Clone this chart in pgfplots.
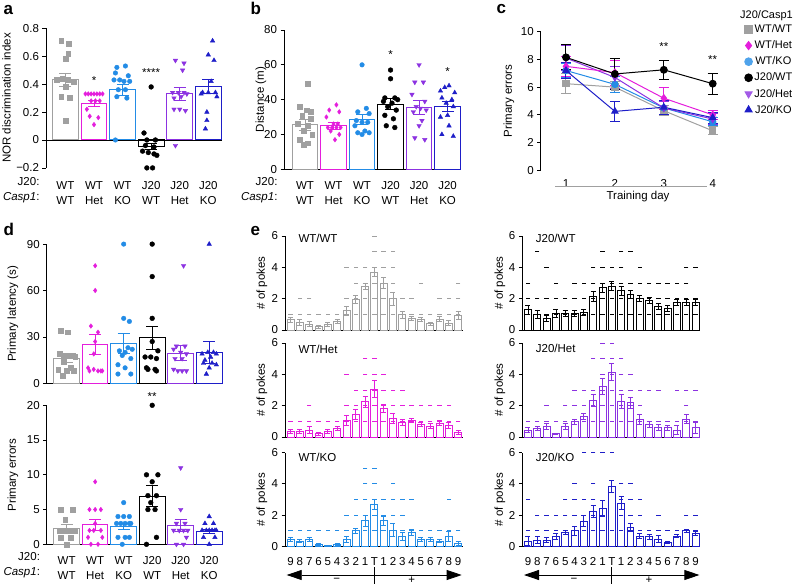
\documentclass[border=0pt]{standalone}
\usepackage{pgfplots}
\usepackage{pgfplotstable}
\pgfplotsset{compat=1.18}
\usepackage{fontspec}
\setmainfont{Liberation Sans}
\usetikzlibrary{arrows.meta}
\definecolor{cgray}{RGB}{160,160,160}
\definecolor{cmag}{RGB}{228,30,220}
\definecolor{clb}{RGB}{35,140,230}
\definecolor{cpur}{RGB}{140,50,225}
\definecolor{cblu}{RGB}{30,30,200}
\newcommand\lbl{\fontsize{11.5}{13.5}\selectfont}
\newcommand\lgd{\fontsize{11}{13}\selectfont}
\newcommand\pl{\fontsize{17}{19}\selectfont\bfseries}
\pgfplotsset{
 base/.style={scale only axis, clip=false, axis y line=left, axis x line=bottom,
   axis line style={line width=0.8pt,-}, tick style={line width=0.8pt,black}, tick align=outside,
   major tick length=3.5pt, ticklabel style={font=\lbl}, /pgf/number format/assume math mode=true},
 cat/.style={xtick={0,...,5}, xticklabels={WT,WT,WT,J20,J20,J20}, major x tick style={draw=none},
   xticklabel style={anchor=base, yshift=-#1pt},
   extra x ticks={0,...,5}, extra x tick labels={WT,Het,KO,WT,Het,KO},
   extra x tick style={major x tick style={draw=none}, xticklabel style={yshift=-15pt}}},
 cbar/.style={ybar, bar width=0.9, bar shift=0pt, fill=none, line width=1pt, draw=#1,
   error bars/.cd, y dir=both, y explicit, error bar style={line width=1pt, draw=#1},
   error mark options={rotate=90, mark size=6pt, line width=1pt, draw=#1}},
 ebar/.style={ybar, bar width=0.75, bar shift=0pt, fill=none, line width=0.8pt, draw=#1,
   error bars/.cd, y dir=both, y explicit, error bar style={line width=0.8pt, draw=#1},
   error mark options={rotate=90, mark size=2.5pt, line width=0.8pt, draw=#1}},
 dots/.style={only marks, mark=-, mark size=2.2pt, color=#1, mark options={line width=0.9pt}},
 eax/.style={base, width=178pt, height=94pt, xmin=-9.6, xmax=9.52, ymin=0, ymax=6, ytick={0,2,4,6}, xtick=\empty, anchor=south west},
 eaxb/.style={eax, xtick={-9,...,9}, xticklabels={9,8,7,6,5,4,3,2,1,T,1,2,3,4,5,6,7,8,9}, major x tick style={draw=none}, xticklabel style={anchor=base, yshift=-15.5pt}},
 pWTWT/.style={only marks, mark=square*, mark size=2.4pt, color=cgray},
 pWTHet/.style={only marks, mark=diamond*, mark size=2.3pt, color=cmag},
 pWTKO/.style={only marks, mark=*, mark size=2.3pt, color=clb},
 pJWT/.style={only marks, mark=*, mark size=2.4pt, color=black},
 pJHet/.style={only marks, mark=triangle*, mark size=2.6pt, color=cpur, mark options={rotate=180}},
 pJKO/.style={only marks, mark=triangle*, mark size=2.6pt, color=cblu},
}

\pgfplotstableread{
x y e
-9 0.65 0.15
-8 0.47 0.2
-7 0.37 0.15
-6 0.20 0.1
-5 0.37 0.12
-4 0.54 0.12
-3 1.23 0.3
-2 1.95 0.25
-1 2.8 0.2
0 3.7 0.3
1 3.0 0.35
2 2.0 0.4
3 0.97 0.2
4 0.75 0.12
5 0.7 0.12
6 0.4 0.1
7 0.7 0.15
8 0.45 0.15
9 0.95 0.25
}\eWTWT
\pgfplotstableread{
x y e
-9 0.35 0.15
-8 0.35 0.15
-7 0.45 0.2
-6 0.2 0.1
-5 0.35 0.15
-4 0.55 0.12
-3 1.05 0.3
-2 1.45 0.3
-1 2.25 0.35
0 3.05 0.55
1 1.8 0.25
2 1.2 0.3
3 0.95 0.2
4 1.05 0.12
5 0.8 0.15
6 0.7 0.15
7 0.9 0.15
8 0.75 0.2
9 0.3 0.15
}\eWTHet
\pgfplotstableread{
x y e
-9 0.45 0.12
-8 0.35 0.1
-7 0.45 0.12
-6 0.12 0.07
-5 0.05 0.05
-4 0.12 0.07
-3 0.45 0.2
-2 1.0 0.15
-1 1.65 0.35
0 2.7 0.3
1 1.65 0.3
2 1.05 0.4
3 0.65 0.25
4 0.9 0.2
5 0.45 0.12
6 0.45 0.12
7 0.35 0.1
8 0.65 0.3
9 0.2 0.1
}\eWTKO
\pgfplotstableread{
x y e
-9 1.3 0.3
-8 0.97 0.25
-7 0.75 0.2
-6 1.04 0.25
-5 1.04 0.2
-4 1.08 0.2
-3 1.12 0.2
-2 2.15 0.3
-1 2.7 0.3
0 2.8 0.3
1 2.5 0.3
2 2.27 0.25
3 2.0 0.2
4 1.9 0.2
5 1.5 0.2
6 1.4 0.2
7 1.77 0.2
8 1.77 0.2
9 1.77 0.2
}\eJWT
\pgfplotstableread{
x y e
-9 0.45 0.15
-8 0.55 0.12
-7 0.7 0.2
-6 0.2 0.05
-5 0.7 0.2
-4 0.97 0.15
-3 1.3 0.2
-2 2.35 0.4
-1 3.23 0.5
0 4.14 0.55
1 2.3 0.45
2 2.2 0.35
3 1.12 0.3
4 0.8 0.2
5 0.6 0.2
6 0.6 0.15
7 0.45 0.3
8 1.14 0.3
9 0.6 0.35
}\eJHet
\pgfplotstableread{
x y e
-9 0.35 0.3
-8 0.42 0.2
-7 0.42 0.15
-6 0.63 0.2
-5 0.9 0.15
-4 1.0 0.3
-3 1.62 0.35
-2 2.25 0.4
-1 2.42 0.5
0 3.85 0.4
1 2.78 0.4
2 1.22 0.25
3 0.67 0.15
4 0.63 0.15
5 0.48 0.2
6 0.27 0.07
7 0.67 0.1
8 1.0 0.12
9 0.84 0.1
}\eJKO

\begin{document}
\begin{tikzpicture}[x=1pt,y=1pt]
\useasboundingbox (0,0) rectangle (796,-586);

% ---------------- panel a
\begin{axis}[base, cat=17.8, at={(46pt,-167.9pt)}, anchor=south west, width=176pt, height=139.6pt,
  xmin=-0.68, xmax=5.48, ymin=-0.2, ymax=0.8, ytick={-0.2,0,0.2,0.4,0.6,0.8},
  yticklabels={−0.2,0,0.2,0.4,0.6,0.8}, x axis line style={draw=none}]
\draw[line width=0.8pt] (axis cs:-0.68,0) -- (axis cs:5.48,0);
\addplot[pWTWT] coordinates {(-0.15,0.71)(0.12,0.69)(0.1,0.62)(0.0,0.58)(-0.3,0.43)(-0.1,0.44)(0.1,0.43)(0.3,0.42)(0.0,0.38)(-0.15,0.31)(0.15,0.30)(0.0,0.14)};
\addplot[pWTHet] coordinates {(0.7,0.33)(0.8,0.33)(0.9,0.33)(1.0,0.33)(1.1,0.33)(1.2,0.33)(1.3,0.33)(0.9,0.28)(1.05,0.28)(1.2,0.28)(0.75,0.22)(0.85,0.17)(1.15,0.16)(1.0,0.11)};
\addplot[pWTKO] coordinates {(1.8,0.52)(2.1,0.53)(1.75,0.48)(2.2,0.46)(1.7,0.43)(1.9,0.43)(2.05,0.42)(2.25,0.42)(1.85,0.36)(2.1,0.36)(1.8,0.31)(2.15,0.30)(1.75,0.0)};
\addplot[pJWT] coordinates {(3.0,0.38)(2.75,0.05)(2.85,0.0)(3.15,0.0)(2.8,-0.04)(3.1,-0.05)(2.7,-0.08)(2.9,-0.09)(3.1,-0.1)(3.2,-0.11)(2.85,-0.2)(3.05,-0.2)};
\addplot[pJHet] coordinates {(3.85,0.57)(4.15,0.55)(4.1,0.50)(3.75,0.34)(3.95,0.34)(4.15,0.34)(4.25,0.33)(3.8,0.30)(4.05,0.31)(3.8,0.22)(4.0,0.22)(4.2,0.21)(3.85,-0.04)};
\addplot[pJKO] coordinates {(5.15,0.71)(5.0,0.61)(5.2,0.57)(5.1,0.42)(4.8,0.34)(5.0,0.34)(5.25,0.34)(4.75,0.33)(5.3,0.31)(4.95,0.20)(4.95,0.14)(4.9,0.08)};
\addplot[cbar=cgray] coordinates {(0,0.43) +- (0,0.045)};
\addplot[cbar=cmag] coordinates {(1,0.26) +- (0,0.02)};
\addplot[cbar=clb] coordinates {(2,0.36) +- (0,0.04)};
\addplot[cbar=black] coordinates {(3,-0.045) +- (0,0.02)};
\addplot[cbar=cpur] coordinates {(4,0.33) +- (0,0.045)};
\addplot[cbar=cblu] coordinates {(5,0.385) +- (0,0.05)};
\node[font=\lbl, yshift=-2pt] at (axis cs:1,0.44) {*};
\node[font=\lbl, yshift=-2pt] at (axis cs:3,0.50) {****};
\end{axis}

% ---------------- panel b
\begin{axis}[base, cat=16.4, at={(284pt,-169.3pt)}, anchor=south west, width=177pt, height=139.3pt,
  xmin=-0.737, xmax=5.47, ymin=0, ymax=80, ytick={0,20,40,60,80}]
\addplot[pWTWT] coordinates {(0.1,49)(-0.2,36)(0.05,34)(0.2,33)(-0.1,31)(0.2,29)(-0.25,26)(0.1,25)(-0.05,22)(0.25,20)(-0.2,17)(0.1,15)(-0.05,14)};
\addplot[pWTHet] coordinates {(1.1,37)(0.85,34)(1.2,33)(0.75,30)(1.0,26)(1.15,26)(0.8,24)(0.95,24)(1.1,24)(1.25,24)(0.9,22)(1.2,20)(1.05,17)};
\addplot[pWTKO] coordinates {(2.0,60)(2.15,35)(1.85,33)(2.25,32)(1.8,28)(2.0,27)(2.2,27)(1.75,25)(2.1,22)(1.85,21)(2.0,20)(2.25,21)};
\addplot[pJWT] coordinates {(3.0,57)(3.0,52)(2.8,41)(3.15,41)(3.25,40)(2.75,39)(3.05,38)(2.9,36)(3.2,34)(2.8,31)(3.1,29)(2.85,25)(3.15,24)};
\addplot[pJHet] coordinates {(4.0,60)(3.85,50)(4.15,50)(3.75,43)(4.2,39)(3.9,36)(4.05,35)(4.25,34)(3.8,33)(4.1,28)(4.0,25)(3.85,18)(4.2,17)};
\addplot[pJKO] coordinates {(4.75,45)(4.9,47)(5.05,48)(5.25,44)(4.8,41)(5.15,40)(4.95,38)(5.2,36)(5.0,31)(4.75,30)(5.05,25)(4.8,20)(5.2,19)};
\addplot[cbar=cgray] coordinates {(0,25.5) +- (0,3)};
\addplot[cbar=cmag] coordinates {(1,25) +- (0,2)};
\addplot[cbar=clb] coordinates {(2,28.5) +- (0,3)};
\addplot[cbar=black] coordinates {(3,37.5) +- (0,3)};
\addplot[cbar=cpur] coordinates {(4,35.5) +- (0,4)};
\addplot[cbar=cblu] coordinates {(5,36) +- (0,3)};
\node[font=\lbl, yshift=-2pt] at (axis cs:3,67) {*};
\node[font=\lbl, yshift=-2pt] at (axis cs:5,57.4) {*};
\end{axis}

% ---------------- panel c
\begin{axis}[base, at={(540.7pt,-170.3pt)}, anchor=south west, width=181.8pt, height=138.6pt,
  xmin=0.483, xmax=4.2, ymin=0, ymax=10, ytick={0,2,...,10}, xtick={1,2,3,4},
  x axis line style={draw=none}, major x tick style={draw=none}, xticklabel style={anchor=base, yshift=-13.7pt},
  legend style={at={(axis description cs:1.105,1.08)}, anchor=north west, draw=none, fill=none, font=\lgd, row sep=2.6pt},
  legend image code/.code={\draw[#1] plot coordinates {(4pt,0pt)};},
  every axis plot/.append style={line width=1pt}]
\addplot[cgray, mark=square*, mark size=3.2pt, forget plot, error bars/.cd, y dir=both, y explicit, error bar style={line width=1pt}, error mark options={rotate=90, mark size=5pt, line width=1pt}] coordinates {(1,6.25)+-(0,0.7) (2,6.0)+-(0,0.4) (3,4.3)+-(0,0.35) (4,2.85)+-(0,0.3)};
\addplot[clb, mark=*, mark size=3.2pt, forget plot, error bars/.cd, y dir=both, y explicit, error bar style={line width=1pt}, error mark options={rotate=90, mark size=5pt, line width=1pt}] coordinates {(1,7.2)+-(0,0.5) (2,6.2)+-(0,0.6) (3,4.5)+-(0,0.5) (4,3.5)+-(0,0.3)};
\addplot[cpur, mark=triangle*, mark options={rotate=180}, mark size=3.6pt, forget plot, error bars/.cd, y dir=both, y explicit, error bar style={line width=1pt}, error mark options={rotate=90, mark size=5pt, line width=1pt}] coordinates {(1,8.1)+-(0,0.9) (2,6.7)+-(0,0.8) (3,4.5)+-(0,0.5) (4,3.7)+-(0,0.4)};
\addplot[cmag, mark=diamond*, mark size=3.6pt, forget plot, error bars/.cd, y dir=both, y explicit, error bar style={line width=1pt}, error mark options={rotate=90, mark size=5pt, line width=1pt}] coordinates {(1,7.5)+-(0,0.7) (2,7.05)+-(0,0.9) (3,5.2)+-(0,0.8) (4,4.0)+-(0,0.35)};
\addplot[cblu, mark=triangle*, mark size=3.6pt, forget plot, error bars/.cd, y dir=both, y explicit, error bar style={line width=1pt}, error mark options={rotate=90, mark size=5pt, line width=1pt}] coordinates {(1,7.2)+-(0,0.6) (2,4.25)+-(0,0.7) (3,4.55)+-(0,0.5) (4,3.8)+-(0,0.4)};
\addplot[black, mark=*, mark size=3.4pt, forget plot, error bars/.cd, y dir=both, y explicit, error bar style={line width=1pt}, error mark options={rotate=90, mark size=5pt, line width=1pt}] coordinates {(1,8.15)+-(0,0.9) (2,6.95)+-(0,1.1) (3,7.25)+-(0,0.7) (4,6.25)+-(0,0.75)};
\node[font=\lbl, yshift=-2pt] at (axis cs:3,9.04) {**};
\node[font=\lbl, yshift=-2pt] at (axis cs:4,8.15) {**};
\addlegendimage{only marks, mark=square*, mark size=3.6pt, cgray}\addlegendentry{WT/WT}
\addlegendimage{only marks, mark=diamond*, mark size=4pt, cmag}\addlegendentry{WT/Het}
\addlegendimage{only marks, mark=*, mark size=3.8pt, clb!80!white}\addlegendentry{WT/KO}
\addlegendimage{only marks, mark=*, mark size=3.8pt, black}\addlegendentry{J20/WT}
\addlegendimage{only marks, mark=triangle*, mark options={rotate=180}, mark size=4pt, cpur!80!white}\addlegendentry{J20/Het}
\addlegendimage{only marks, mark=triangle*, mark size=4pt, cblu}\addlegendentry{J20/KO}
\end{axis}

% ---------------- panel d top
\begin{axis}[base, at={(46.7pt,-383.3pt)}, anchor=south west, width=176.2pt, height=139.2pt,
  xmin=-0.7, xmax=5.48, ymin=0, ymax=90, ytick={0,30,60,90}, xtick=\empty]
\addplot[pWTWT] coordinates {(-0.2,34)(0.05,33)(-0.25,19)(-0.1,18)(0.05,18)(0.2,18)(0.3,17)(-0.1,14)(0.15,10)(-0.3,9)(0,8)(0.25,8)(-0.15,5)};
\addplot[pWTHet] coordinates {(1.0,76)(1.0,60)(0.85,37)(1.1,33)(1.0,27)(0.95,19)(0.75,10)(0.8,8)(0.95,9)(1.1,8)(1.2,8)(1.25,8)};
\addplot[pWTKO] coordinates {(2.0,90)(2.0,42)(2.2,40)(2.15,23)(2.3,22)(1.85,21)(2.05,20)(1.95,18)(2.25,16)(1.8,12)(2.05,10)(1.8,6)(2.25,6)};
\addplot[pJWT] coordinates {(3,90)(3,69)(3,42)(3.0,27)(3.2,21)(2.75,17)(2.95,17)(3.15,16)(2.8,10)(3.1,9)(2.85,9)(3.15,8)};
\addplot[pJHet] coordinates {(4.1,76)(3.85,24)(4.15,24)(3.75,22)(4.0,20)(4.2,19)(3.8,16)(4.05,16)(3.75,9)(3.9,8)(4.05,8)(4.2,8)};
\addplot[pJKO] coordinates {(5.0,90)(5.15,20)(4.95,20)(4.75,19)(5.25,19)(5.05,17)(4.85,15)(4.8,13)(5.1,13)(5.25,12)(5.0,10)(4.9,6)};
\addplot[cbar=cgray] coordinates {(0,16) +- (0,2.5)};
\addplot[cbar=cmag] coordinates {(1,25) +- (0,6.5)};
\addplot[cbar=clb] coordinates {(2,25.5) +- (0,6.5)};
\addplot[cbar=black] coordinates {(3,29.5) +- (0,7.5)};
\addplot[cbar=cpur] coordinates {(4,19.5) +- (0,5)};
\addplot[cbar=cblu] coordinates {(5,20) +- (0,7)};
\end{axis}

% ---------------- panel d bottom
\begin{axis}[base, cat=16.4, at={(46.7pt,-544.3pt)}, anchor=south west, width=176.2pt, height=139pt,
  xmin=-0.7, xmax=5.48, ymin=0, ymax=20, ytick={0,5,10,15,20}]
\addplot[pWTWT] coordinates {(-0.2,5)(0.2,5)(-0.05,3.5)(-0.25,2)(-0.1,2)(0.05,2)(0.2,2)(0.3,2)(-0.2,1)(0.15,1)(0.0,0)};
\addplot[pWTHet] coordinates {(1.0,9)(0.8,5)(1.0,5)(1.2,5)(0.8,2)(0.95,2)(1.2,2)(1.0,3)(0.85,0)(1.1,0)(1.25,1)(0.75,1)};
\addplot[pWTKO] coordinates {(2.0,6)(1.8,4)(2.0,4)(2.2,4)(1.75,3)(1.9,3)(2.05,3)(2.2,3)(2.25,3)(1.8,1)(2.05,1)(2.2,1)(1.95,0)};
\addplot[pJWT] coordinates {(3,20)(2.8,10)(3.2,10)(3.0,9)(2.85,7)(3.15,7)(2.95,6)(2.85,5)(3.1,5)(3.15,1)(2.8,0)};
\addplot[pJHet] coordinates {(4.0,11)(4.0,5)(3.85,3)(4.15,3)(3.75,2)(3.95,2)(4.1,2)(4.25,2)(3.85,0)(4.1,0)(4.2,1)};
\addplot[pJKO] coordinates {(5.0,4)(4.85,3)(5.15,3)(4.75,2)(4.9,2)(5.0,2)(5.1,2)(5.2,2)(5.25,2)(4.8,1)(5.2,1)(5.0,0)};
\addplot[cbar=cgray] coordinates {(0,2.3) +- (0,0.5)};
\addplot[cbar=cmag] coordinates {(1,2.8) +- (0,0.8)};
\addplot[cbar=clb] coordinates {(2,2.6) +- (0,0.4)};
\addplot[cbar=black] coordinates {(3,6.9) +- (0,1.5)};
\addplot[cbar=cpur] coordinates {(4,2.7) +- (0,0.9)};
\addplot[cbar=cblu] coordinates {(5,1.9) +- (0,0.3)};
\node[font=\lbl, yshift=-2pt] at (axis cs:3,21.5) {**};
\end{axis}

% ---------------- panel e
\begin{axis}[eax, at={(285pt,-330pt)}]
\addplot[dots=cgray] coordinates {(-9,1)(-8,1)(-7,1)(-6,1)(-5,1)(-4,1)(-3,1)(-2,1)(-1,1)(0,1)(1,1)(2,1)(3,1)(4,1)(5,1)(6,1)(7,1)(8,1)(9,1)
 (-8,2)(-7,2)(-3,2)(-2,2)(-1,2)(0,2)(1,2)(2,2)(3,2)(4,2)(7,2)(8,2)(9,2)
 (-2,3)(-1,3)(0,3)(1,3)(2,3)(5,3)(9,3) (-3,4)(-2,4)(-1,4)(0,4)(1,4)(2,4) (0,5)(1,5)(2,5) (0,6)};
\addplot[ebar=cgray] table[x=x,y=y,y error=e] {\eWTWT};
\end{axis}
\begin{axis}[eax, at={(285pt,-437pt)}]
\addplot[dots=cmag] coordinates {(-9,1)(-8,1)(-7,1)(-6,1)(-5,1)(-4,1)(-3,1)(-2,1)(-1,1)(0,1)(1,1)(2,1)(3,1)(4,1)(5,1)(6,1)(7,1)(8,1)(9,1)
 (-7,2)(-3,2)(-2,2)(-1,2)(0,2)(1,2)(2,2)(3,2)(4,2)(5,2)(6,2)(7,2)(8,2)
 (-2,3)(-1,3)(0,3)(1,3)(2,3)(3,3) (-3,4)(-1,4)(0,4)(1,4) (-1,5)(0,5)};
\addplot[ebar=cmag] table[x=x,y=y,y error=e] {\eWTHet};
\end{axis}
\begin{axis}[eaxb, at={(285pt,-546.5pt)}]
\addplot[dots=clb] coordinates {(-9,1)(-8,1)(-7,1)(-6,1)(-5,1)(-4,1)(-3,1)(-2,1)(-1,1)(0,1)(1,1)(2,1)(3,1)(4,1)(5,1)(6,1)(7,1)(8,1)(9,1)
 (-3,2)(-2,2)(-1,2)(0,2)(1,2)(2,2)(3,2)
 (-2,3)(-1,3)(0,3)(1,3)(2,3)(3,3)(4,3)(8,3) (-1,4)(0,4)(2,4) (-1,5)(0,5)};
\addplot[ebar=clb] table[x=x,y=y,y error=e] {\eWTKO};
\end{axis}
\begin{axis}[eax, at={(522.4pt,-330pt)}]
\addplot[dots=black] coordinates {(-9,1)(-8,1)(-7,1)(-6,1)(-5,1)(-4,1)(-3,1)(-2,1)(-1,1)(0,1)(1,1)(2,1)(3,1)(4,1)(5,1)(6,1)(7,1)(8,1)(9,1)
 (-9,2)(-8,2)(-7,2)(-6,2)(-5,2)(-4,2)(-3,2)(-2,2)(-1,2)(0,2)(1,2)(2,2)(3,2)(4,2)(5,2)(6,2)(7,2)(8,2)(9,2)
 (-9,3)(-6,3)(-4,3)(-3,3)(-2,3)(-1,3)(0,3)(1,3)(2,3)(3,3)(4,3)(5,3)(6,3)(7,3)(8,3)
 (-7,4)(-2,4)(-1,4)(0,4)(1,4)(3,4)(8,4)(9,4) (-8,5)(-1,5)(1,5)(2,5)};
\addplot[ebar=black] table[x=x,y=y,y error=e] {\eJWT};
\end{axis}
\begin{axis}[eax, at={(522.4pt,-437pt)}]
\addplot[dots=cpur] coordinates {(-9,1)(-8,1)(-7,1)(-6,1)(-5,1)(-4,1)(-3,1)(-2,1)(-1,1)(0,1)(1,1)(2,1)(3,1)(4,1)(5,1)(6,1)(7,1)(8,1)(9,1)
 (-7,2)(-5,2)(-4,2)(-3,2)(-2,2)(-1,2)(0,2)(1,2)(2,2)(3,2)(8,2)
 (-4,3)(-3,3)(-2,3)(-1,3)(0,3)(1,3)(2,3)(3,3)(4,3)(5,3)(7,3)(8,3)(9,3)
 (-1,4)(0,4)(1,4)(2,4) (-2,5)(-1,5)(0,5)(1,5) (-1,6)(0,6)};
\addplot[ebar=cpur] table[x=x,y=y,y error=e] {\eJHet};
\end{axis}
\begin{axis}[eaxb, at={(522.4pt,-546.5pt)}]
\addplot[dots=cblu] coordinates {(-9,1)(-8,1)(-7,1)(-6,1)(-5,1)(-4,1)(-3,1)(-2,1)(-1,1)(0,1)(1,1)(2,1)(3,1)(4,1)(5,1)(6,1)(7,1)(8,1)(9,1)
 (-8,2)(-7,2)(-6,2)(-5,2)(-4,2)(-3,2)(-2,2)(-1,2)(1,2)(2,2)(3,2)(5,2)(8,2)(9,2)
 (-9,3)(-5,3)(-4,3)(-3,3)(-2,3)(1,3)(2,3)(3,3) (-4,4)(-2,4)(1,4)(2,4) (-3,6)(-2,6)(-1,6)(0,6)};
\addplot[ebar=cblu] table[x=x,y=y,y error=e] {\eJKO};
\end{axis}

% ---------------- texts
\node[anchor=base west, font=\pl] at (0,-15) {a};
\node[anchor=base west, font=\pl] at (247,-15) {b};
\node[anchor=base west, font=\pl] at (493,-13.5) {c};
\node[anchor=base west, font=\pl] at (0,-235) {d};
\node[anchor=base west, font=\pl] at (247,-235) {e};

\node[rotate=90, font=\lbl] at (6.5,-98) {NOR discrimination index};
\node[rotate=90, font=\lbl] at (261,-99.6) {Distance (m)};
\node[rotate=90, font=\lbl] at (509,-101) {Primary errors};
\node[rotate=90, font=\lbl] at (13,-314) {Primary latency (s)};
\node[rotate=90, font=\lbl] at (13,-475) {Primary errors};
\foreach \yy in {283,390,499.5} {
  \node[rotate=90, font=\lbl] at (262,-\yy) {\# of pokes};
  \node[rotate=90, font=\lbl] at (500,-\yy) {\# of pokes};
}
\node[anchor=base east, font=\lbl] at (43,-185.7) {J20:};
\node[anchor=base east, font=\lbl] at (43,-200.7) {\textit{Casp1}:};
\node[anchor=base east, font=\lbl] at (281,-185.7) {J20:};
\node[anchor=base east, font=\lbl] at (281,-200.7) {\textit{Casp1}:};
\node[anchor=base east, font=\lbl] at (43.5,-560.7) {J20:};
\node[anchor=base east, font=\lbl] at (43.5,-575.7) {\textit{Casp1}:};

\draw[cgray, line width=0.8pt] (555,-186.7) -- (707,-186.7);
\node[font=\lbl] at (638,-196.7) {Training day};
\node[anchor=base west, font=\lgd] at (736.7,-18.3) {J20/Casp1};

\node[anchor=west, font=\lbl] at (295,-238.5) {WT/WT};
\node[anchor=west, font=\lbl] at (295,-349.3) {WT/Het};
\node[anchor=west, font=\lbl] at (295,-457.3) {WT/KO};
\node[anchor=west, font=\lbl] at (532.4,-238.5) {J20/WT};
\node[anchor=west, font=\lbl] at (532.4,-348.5) {J20/Het};
\node[anchor=west, font=\lbl] at (532.4,-457.3) {J20/KO};

\draw[line width=0.8pt, {Triangle[length=15pt,width=10pt]}-{Triangle[length=15pt,width=10pt]}] (286.7,-575) -- (461.7,-575);
\draw[line width=0.8pt] (374.4,-567) -- (374.4,-584);
\node[font=\lbl, inner sep=0pt] at (336.7,-580.5) {−};
\node[font=\lbl, inner sep=0pt] at (411.7,-580.5) {+};
\draw[line width=0.8pt, {Triangle[length=15pt,width=10pt]}-{Triangle[length=15pt,width=10pt]}] (524,-575) -- (699.4,-575);
\draw[line width=0.8pt] (611.7,-567) -- (611.7,-584);
\node[font=\lbl, inner sep=0pt] at (574,-580.5) {−};
\node[font=\lbl, inner sep=0pt] at (649,-580.5) {+};
\end{tikzpicture}
\end{document}
